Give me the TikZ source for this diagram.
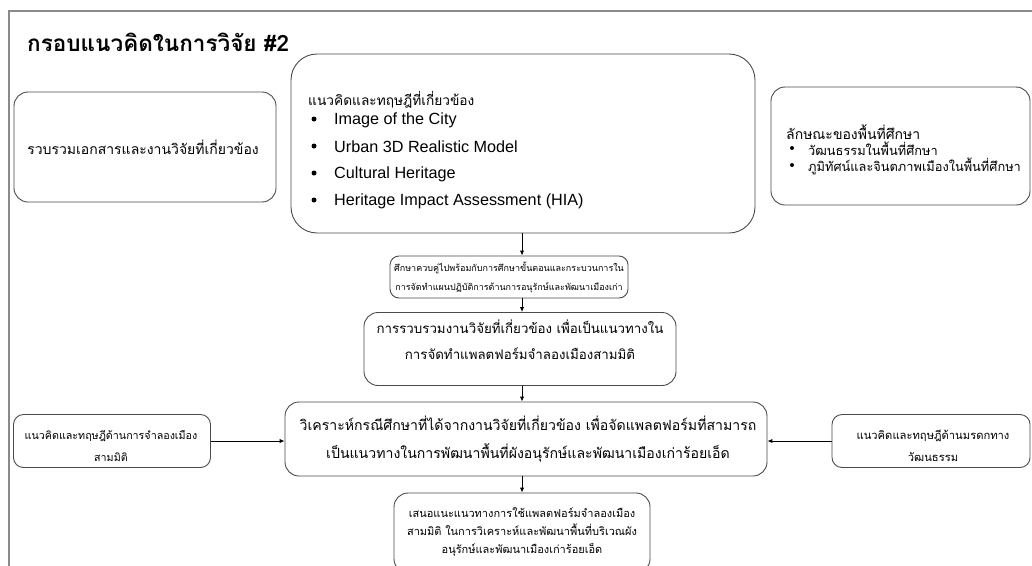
\documentclass[tikz,border=0pt]{standalone}
\usepackage{fontspec}
\setmainfont[Script=Thai]{Loma}
\newfontfamily\latin{Liberation Sans}
\usetikzlibrary{arrows.meta}
\definecolor{boxline}{HTML}{4A4A4A}
\definecolor{frameline}{HTML}{8A8A8A}
\newcommand{\fs}[2]{\fontsize{#1}{#2}\selectfont}
\tikzset{
  rbox/.style={draw=boxline, line width=0.9pt, rounded corners=#1, inner sep=0pt},
  rbox/.default=14pt,
  arr/.style={-{Latex[length=5pt,width=4.5pt]}, line width=1pt, black},
  txt/.style={inner sep=0pt, align=center, text=black},
  bul/.style={circle, fill=black, draw=none, inner sep=0pt, minimum size=#1},
}
\begin{document}
\begin{tikzpicture}[x=1pt,y=-1pt]
\useasboundingbox (0,0) rectangle (1032,565);
\clip (0,0) rectangle (1032,565);
\fill[white] (0,0) rectangle (1032,565);
\draw[frameline, line width=1.5pt] (9,600) -- (9,11) -- (1045,11);
% title
\node[txt, anchor=west, font={\fs{22.5}{26}\bfseries}] (title) at (27,42) {กรอบแนวคิดในการวิจัย \#2};
% boxes
\node[rbox, minimum width=262pt, minimum height=110pt] (docs) at (145,147) {};
\node[txt, font={\fs{14}{18}}] (docsT) at (143,147) {รวบรวมเอกสารและงานวิจัยที่เกี่ยวข้อง};

\node[rbox=26pt, minimum width=464pt, minimum height=179pt] (theory) at (523,143.5) {};
\node[txt, anchor=west, font={\fs{13.7}{16}}] (theoryH) at (308,100) {แนวคิดและทฤษฎีที่เกี่ยวข้อง};
\foreach \yy/\tt [count=\i] in {120/Image of the City, 147/Urban 3D Realistic Model, 174/Cultural Heritage, 201/Heritage Impact Assessment (HIA)}{
  \node[bul=5pt] (tb\i) at (314,\yy-1) {};
  \node[txt, anchor=west, font={\latin\fs{16.2}{18}}] (ti\i) at (334,\yy) {\tt};
}

\node[rbox, minimum width=259pt, minimum height=118pt] (area) at (900.5,146) {};
\node[txt, anchor=west, font={\fs{14}{16}}] (areaH) at (786,132) {ลักษณะของพื้นที่ศึกษา};
\node[bul=4pt] (ab1) at (792,148) {};
\node[txt, anchor=west, font={\fs{12.8}{15}}] (ai1) at (808,149) {วัฒนธรรมในพื้นที่ศึกษา};
\node[bul=4pt] (ab2) at (792,165) {};
\node[txt, anchor=west, font={\fs{12.8}{15}}] (ai2) at (808,166) {ภูมิทัศน์และจินตภาพเมืองในพื้นที่ศึกษา};

\node[rbox=9pt, minimum width=238pt, minimum height=42pt] (study) at (509,277) {};
\node[txt, font={\fs{9}{19}}] (studyT) at (509,277.5) {ศึกษาควบคู่ไปพร้อมกับการศึกษาขั้นตอนและกระบวนการใน\\ การจัดทำแผนปฏิบัติการด้านการอนุรักษ์และพัฒนาเมืองเก่า};

\node[rbox, minimum width=312pt, minimum height=73pt] (collect) at (520,349) {};
\node[txt, font={\fs{13.3}{26}}] (collectT) at (520,340) {การรวบรวมงานวิจัยที่เกี่ยวข้อง เพื่อเป็นแนวทางใน\\ การจัดทำแพลตฟอร์มจำลองเมืองสามมิติ};

\node[rbox, minimum width=482pt, minimum height=74pt] (analyze) at (526,439) {};
\node[txt, font={\fs{14.1}{28}}] (analyzeT) at (528,439) {วิเคราะห์กรณีศึกษาที่ได้จากงานวิจัยที่เกี่ยวข้อง เพื่อจัดแพลตฟอร์มที่สามารถ\\ เป็นแนวทางในการพัฒนาพื้นที่ผังอนุรักษ์และพัฒนาเมืองเก่าร้อยเอ็ด};

\node[rbox=10pt, minimum width=197pt, minimum height=53pt] (sim) at (112,441) {};
\node[txt, font={\fs{10.7}{22}}] (simT) at (111,446) {แนวคิดและทฤษฎีด้านการจำลองเมือง\\ สามมิติ};

\node[rbox=10pt, minimum width=198pt, minimum height=53pt] (heritage) at (931,441) {};
\node[txt, font={\fs{11.2}{22}}] (heritageT) at (933,446) {แนวคิดและทฤษฎีด้านมรดกทาง\\ วัฒนธรรม};

\node[rbox=14pt, minimum width=256pt, minimum height=80pt] (propose) at (522,533) {};
\node[txt, font={\fs{11}{18}}] (proposeT) at (522,532) {เสนอแนะแนวทางการใช้แพลตฟอร์มจำลองเมือง\\ สามมิติ ในการวิเคราะห์และพัฒนาพื้นที่บริเวณผัง\\ อนุรักษ์และพัฒนาเมืองเก่าร้อยเอ็ด};

% arrows
\coordinate (ax) at (522,0);
\draw[arr] (theory.south -| ax) -- (study.north -| ax);
\draw[arr] (study.south -| ax) -- (collect.north -| ax);
\draw[arr] (collect.south -| ax) -- (analyze.north -| ax);
\draw[arr] (analyze.south -| ax) -- (propose.north -| ax);
\draw[arr] (sim.east) -- (analyze.west |- sim.east);
\draw[arr] (heritage.west) -- (analyze.east |- heritage.west);
\end{tikzpicture}
\end{document}
